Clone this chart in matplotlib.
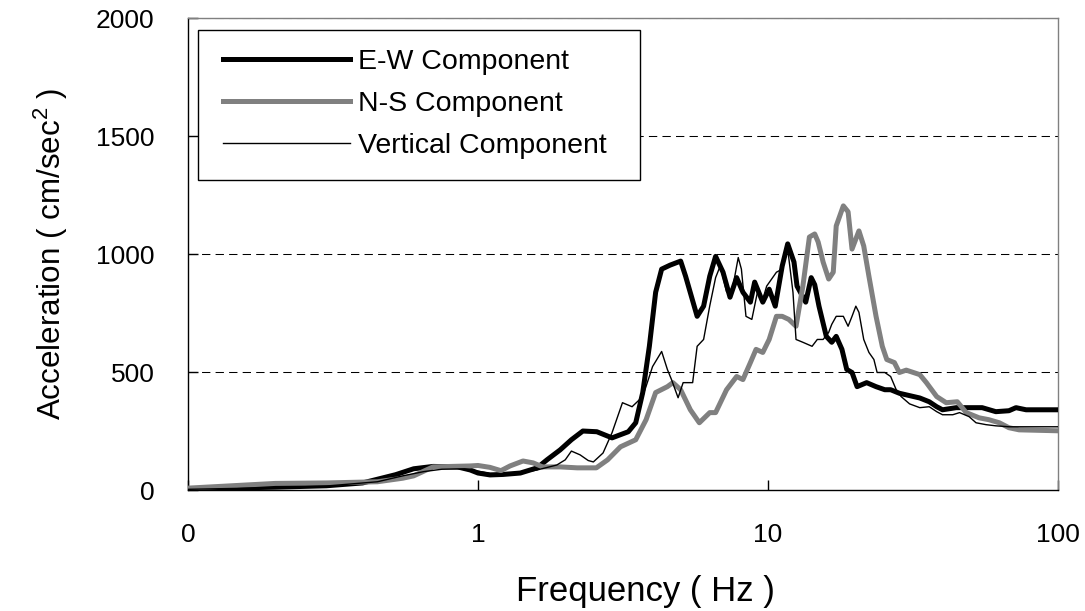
import matplotlib

matplotlib.use("Agg")
import matplotlib.pyplot as plt
from matplotlib.patches import Rectangle

# output path
VISUALISED_PATH = "out.png"

# E-W component (frequency in Hz, acceleration in cm/sec^2)
EW_FREQ = [0.1, 0.2, 0.3, 0.4, 0.52, 0.6, 0.7, 0.85, 0.94, 1.0, 1.1, 1.22, 1.4,
           1.6, 1.73, 1.92, 2.1, 2.3, 2.57, 2.9, 3.3, 3.5, 3.7, 3.9, 4.1, 4.3,
           4.6, 5.0, 5.2, 5.7, 6.0, 6.3, 6.6, 7.0, 7.4, 7.8, 8.2, 8.7, 9.0, 9.6,
           10.1, 10.6, 11.2, 11.7, 12.3, 12.6, 13.5, 14.1, 14.5, 15.0, 15.9,
           16.6, 17.2, 18.0, 18.7, 19.5, 20.3, 21.9, 23.6, 25.3, 26.5, 28.4,
           30.8, 33.4, 36.0, 38.2, 40.0, 44.6, 49.4, 54.8, 61.1, 67.8, 71.7,
           77.7, 100.0]
EW_ACC = [5, 12, 18, 30, 65, 90, 100, 98, 85, 72, 64, 66, 72,
          94, 128, 170, 213, 250, 247, 221, 247, 285, 413, 609, 838, 936,
          953, 970, 906, 736, 779, 906, 990, 923, 817, 900, 838, 796, 881, 796,
          851, 779, 949, 1043, 966, 864, 796, 900, 870, 779, 651,
          626, 651, 596, 511, 498, 438, 455, 438, 425, 425, 410,
          400, 390, 374, 353, 340, 349, 349, 349, 332, 336, 349,
          340, 340]

# N-S component
NS_FREQ = [0.1, 0.2, 0.3, 0.45, 0.55, 0.6, 0.7, 0.94, 1.0, 1.1, 1.2, 1.29, 1.43,
           1.55, 1.67, 1.92, 2.2, 2.56, 2.8, 3.1, 3.5, 3.8, 4.1, 4.5, 4.7, 5.0,
           5.4, 5.8, 6.3, 6.6, 7.2, 7.8, 8.2, 8.7, 9.1, 9.6, 10.1, 10.7, 11.2,
           11.8, 12.5, 13.2, 13.9, 14.5, 14.9, 15.5, 16.2, 16.8, 17.2, 18.2,
           18.9, 19.5, 20.6, 21.4, 22.3, 23.6, 24.8, 25.7, 27.3, 28.4, 30.0,
           33.4, 35.2, 38.2, 41.2, 45.0, 48.3, 53.5, 57.8, 62.8, 67.8, 73.5,
           100.0]
NS_ACC = [8, 28, 30, 35, 50, 60, 98, 102, 104, 96, 82, 102, 123,
          115, 98, 98, 94, 94, 128, 183, 213, 298, 413, 438, 455, 425,
          340, 285, 328, 328, 425, 481, 468, 540, 596, 583, 638, 736, 736,
          723, 694, 864, 1072, 1085, 1051, 966, 894, 923, 1119, 1204,
          1179, 1021, 1098, 1034, 906, 736, 609, 553, 540, 498, 508,
          489, 455, 396, 370, 374, 328, 306, 298, 285, 264, 255,
          251]

# vertical component
VT_FREQ = [0.1, 0.2, 0.3, 0.45, 0.55, 0.65, 0.75, 0.9, 1.0, 1.1, 1.25, 1.4, 1.6,
           1.87, 2.0, 2.1, 2.25, 2.4, 2.5, 2.7, 2.9, 3.15, 3.4, 3.7, 4.0, 4.3,
           4.5, 4.65, 4.9, 5.1, 5.5, 5.7, 6.0, 6.3, 6.6, 6.85, 7.2, 7.5, 7.9,
           8.1, 8.4, 8.8, 9.2, 9.6, 9.9, 10.7, 11.2, 11.7, 12.2, 12.5, 13.2,
           14.2, 14.8, 15.5, 16.2, 16.6, 17.2, 18.2, 18.9, 19.5, 20.1, 20.6,
           21.4, 22.3, 23.2, 23.8, 25.3, 26.5, 27.7, 28.8, 30.8, 33.4, 36.0,
           38.2, 40.0, 43.4, 45.8, 49.4, 52.2, 56.5, 61.1, 67.8, 100.0]
VT_ACC = [3, 10, 17, 35, 60, 78, 88, 90, 80, 70, 68, 72, 85,
          106, 128, 165, 149, 125, 119, 157, 243, 370, 353, 396, 523, 587,
          511, 468, 391, 455, 455, 609, 638, 780, 900, 950, 840, 835, 985,
          936, 736, 723, 838, 808, 864, 923, 936, 1021, 838, 638, 626,
          609, 638, 638, 668, 702, 736, 736, 694, 736, 779, 753,
          638, 583, 553, 498, 498, 481, 425, 396, 365, 349, 353,
          332, 319, 319, 328, 311, 285, 277, 272, 268, 268]

# tick positions and labels
X_TICKS = [0.1, 1, 10, 100]
X_TICK_LABELS = ["0", "1", "10", "100"]
Y_TICKS = [0, 500, 1000, 1500, 2000]

plt.rcParams["font.family"] = ["Liberation Sans", "DejaVu Sans"]
plt.rcParams["mathtext.default"] = "regular"


def plot_components(ax: plt.Axes) -> None:
    """draw the three response spectra"""
    ax.plot(EW_FREQ, EW_ACC, color="black", linewidth=3.6,
            label="E-W Component", zorder=3, solid_joinstyle="round")
    ax.plot(NS_FREQ, NS_ACC, color="#808080", linewidth=3.6,
            label="N-S Component", zorder=4, solid_joinstyle="round")
    ax.plot(VT_FREQ, VT_ACC, color="black", linewidth=1.0,
            label="Vertical Component", zorder=5)


def add_legend(ax: plt.Axes) -> None:
    """legend sits in a fixed white box in the upper left corner"""
    box = Rectangle((0.0115, 0.657), 0.5085, 0.318, transform=ax.transAxes,
                    facecolor="white", edgecolor="black", linewidth=1.0, zorder=6)
    ax.add_patch(box)
    leg = ax.legend(loc="upper left", bbox_to_anchor=(0.0402, 0.934),
                    frameon=False, fontsize=20.5, handlelength=4.45,
                    handletextpad=0.28, labelspacing=0.56, borderpad=0,
                    borderaxespad=0)
    leg.set_zorder(7)


def format_plot(ax: plt.Axes) -> None:
    """axes, ticks, grid and labels"""
    ax.set_xscale("log")
    ax.set_xlim(0.1, 100)
    ax.set_ylim(0, 2000)

    ax.set_xticks(X_TICKS)
    ax.set_xticklabels(X_TICK_LABELS)
    ax.xaxis.set_minor_locator(matplotlib.ticker.NullLocator())
    ax.set_yticks(Y_TICKS)

    ax.tick_params(direction="in", length=7, width=1, labelsize=19, pad=24,
                   top=False, right=False)

    for y in Y_TICKS[1:]:
        ax.axhline(y, color="black", linewidth=0.75, linestyle=(0, (8, 5)),
                   zorder=2)

    for side in ["left", "bottom"]:
        ax.spines[side].set_color("black")
        ax.spines[side].set_linewidth(1.0)
    for side in ["top", "right"]:
        ax.spines[side].set_color("#808080")
        ax.spines[side].set_linewidth(1.0)

    ax.set_xlabel("Frequency ( Hz )", fontsize=25, labelpad=20)
    ax.xaxis.label.set_x(0.526)
    ax.set_ylabel("Acceleration ( cm/sec$^2$ )", fontsize=22.6, labelpad=19)


def main():
    fig = plt.figure(figsize=(10.85, 6.11), dpi=100)
    ax = fig.add_axes([0.1733, 0.198, 0.8017, 0.7725])

    plot_components(ax)
    add_legend(ax)
    format_plot(ax)

    fig.savefig(VISUALISED_PATH, dpi=100)


if __name__ == "__main__":
    main()
